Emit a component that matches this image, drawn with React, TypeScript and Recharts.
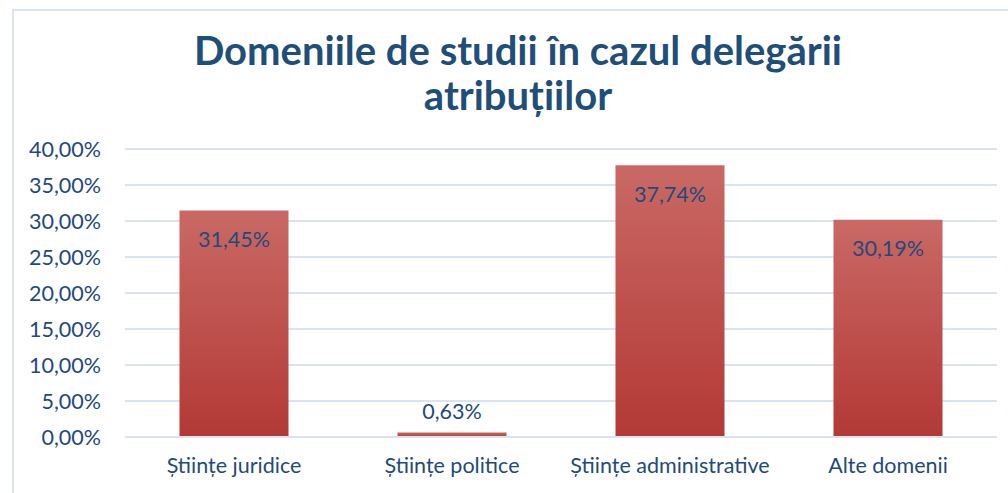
import { Bar, BarChart, CartesianGrid, LabelList, XAxis, YAxis } from "recharts";

const categories = ["Științe juridice", "Științe politice", "Științe administrative", "Alte domenii"];
const shares = [31.45, 0.63, 37.74, 30.19];
const yTicks = [0, 5, 10, 15, 20, 25, 30, 35, 40];

const data = categories.map((name, i) => ({ name, value: shares[i] }));

const TEXT = "#1F4A7C";
const GRID = "#D9E3F1";
const FONT = "Lato, 'Open Sans', sans-serif";

const pct = (v: number) => v.toFixed(2).replace(".", ",") + "%";

// Excel-style: label sits inside the top of the bar, or above it if the bar is too short
function BarLabel(props: any) {
  const { x, y, width, height, value } = props;
  const cx = x + width / 2;
  const cy = height > 40 ? y + 29 : y - 21;
  return (
    <text x={cx} y={cy} dy="0.35em" textAnchor="middle" fill={TEXT} fontSize={21.5} fontFamily={FONT}>
      {pct(value)}
    </text>
  );
}

export default function App() {
  return (
    <div style={{ position: "relative", width: 1008, height: 493, overflow: "hidden", background: "#fff" }}>
      <style>{`body{margin:0}`}</style>
      <div
        style={{
          position: "absolute",
          left: 12,
          top: 9,
          width: 1020,
          height: 520,
          border: `2px solid ${GRID}`,
          boxSizing: "border-box",
        }}
      />
      <div
        style={{
          position: "absolute",
          left: 18,
          width: 1000,
          top: 28,
          textAlign: "center",
          fontFamily: FONT,
          fontWeight: 700,
          fontSize: 40,
          lineHeight: "45px",
          color: "#1F4E79",
        }}
      >
        Domeniile de studii în cazul delegării
        <br />
        atribuțiilor
      </div>
      <div style={{ position: "absolute", left: 0, top: 0 }}>
        <BarChart
          width={1008}
          height={493}
          data={data}
          margin={{ top: 149, right: 11, left: 0, bottom: 0 }}
          barCategoryGap="25%"
        >
          <defs>
            <linearGradient id="barFill" x1="0" y1="0" x2="0" y2="1">
              <stop offset="0%" stopColor="#C96965" />
              <stop offset="100%" stopColor="#B33935" />
            </linearGradient>
          </defs>
          <CartesianGrid vertical={false} stroke={GRID} strokeWidth={2} />
          <XAxis
            dataKey="name"
            axisLine={{ stroke: GRID, strokeWidth: 2 }}
            tickLine={false}
            tickSize={0}
            tickMargin={21}
            height={56}
            tick={{ fill: TEXT, fontSize: 21.5, fontFamily: FONT }}
          />
          <YAxis
            domain={[0, 40]}
            ticks={yTicks}
            tickFormatter={pct}
            axisLine={false}
            tickLine={false}
            tickSize={0}
            tickMargin={24}
            width={125}
            tick={{ fill: TEXT, fontSize: 21.5, fontFamily: FONT }}
          />
          <Bar dataKey="value" fill="url(#barFill)" isAnimationActive={false}>
            <LabelList dataKey="value" content={BarLabel} />
          </Bar>
        </BarChart>
      </div>
    </div>
  );
}
